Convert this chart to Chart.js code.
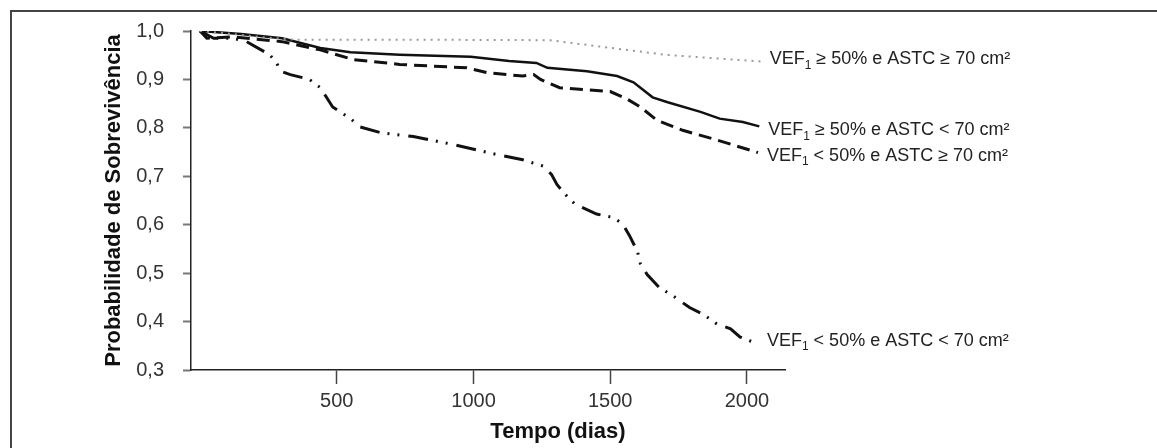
<!DOCTYPE html>
<html>
<head>
<meta charset="utf-8">
<script src="https://cdn.jsdelivr.net/npm/chart.js@4.4.1/dist/chart.umd.min.js"></script>
<style>
  body { margin: 0; background: #fff; }
  #wrap { position: relative; width: 1157px; height: 448px; overflow: hidden; }
  #frame { position: absolute; left: 10px; top: 10px; width: 1200px; height: 500px;
           border-top: 2px solid #444; border-left: 2px solid #444; }
  canvas { position: absolute; left: 0; top: 0; }
</style>
</head>
<body>
<div id="wrap">
  <div id="frame"></div>
  <canvas id="chart" width="1157" height="448"></canvas>
</div>
<script>
// tick labels
const xTicks = [500, 1000, 1500, 2000];
const yTicks = [0.3, 0.4, 0.5, 0.6, 0.7, 0.8, 0.9, 1.0];

// VEF1 >= 50% e ASTC >= 70 cm2 (dotted grey)
const tDot = [0, 100, 250, 350, 800, 1280, 1460, 1700, 1950, 2050];
const sDot = [1.0, 0.995, 0.986, 0.982, 0.982, 0.981, 0.968, 0.951, 0.941, 0.937];

// VEF1 >= 50% e ASTC < 70 cm2 (solid)
const tSolid = [0, 150, 300, 440, 550, 730, 990, 1130, 1230, 1270, 1415, 1525, 1585, 1655, 1710, 1830, 1900, 1985, 2045];
const sSolid = [1.0, 0.994, 0.985, 0.965, 0.956, 0.951, 0.947, 0.938, 0.934, 0.924, 0.917, 0.907, 0.894, 0.863, 0.853, 0.833, 0.819, 0.812, 0.803];

// VEF1 < 50% e ASTC >= 70 cm2 (dashed)
const tDash = [0, 25, 120, 300, 440, 560, 730, 975, 1050, 1180, 1220, 1245, 1315, 1500, 1560, 1610, 1670, 1765, 1890, 2040];
const sDash = [1.0, 0.985, 0.988, 0.978, 0.961, 0.941, 0.931, 0.924, 0.914, 0.907, 0.910, 0.900, 0.883, 0.875, 0.860, 0.843, 0.816, 0.795, 0.775, 0.749];

// VEF1 < 50% e ASTC < 70 cm2 (dash-dot-dot)
const tDD = [0, 50, 120, 170, 255, 280, 295, 330, 400, 440, 485, 550, 585, 660, 780, 905, 985, 1060, 1180, 1255, 1285, 1305, 1340, 1370, 1450, 1510, 1545, 1570, 1600, 1610, 1635, 1680, 1730, 1790, 1840, 1890, 1940, 1975, 2040];
const sDD = [1.0, 0.985, 0.985, 0.978, 0.951, 0.934, 0.917, 0.910, 0.900, 0.883, 0.843, 0.819, 0.802, 0.790, 0.782, 0.768, 0.758, 0.748, 0.734, 0.721, 0.704, 0.683, 0.660, 0.643, 0.622, 0.615, 0.602, 0.578, 0.544, 0.520, 0.497, 0.470, 0.453, 0.429, 0.415, 0.395, 0.385, 0.368, 0.354];

// curve labels: relation for VEF1 and for ASTC
const vefRel = ['≥', '≥', '<', '<'];
const astcRel = ['≥', '<', '≥', '<'];

const FONT = "'Liberation Sans', Arial, sans-serif";

function pts(t, s) {
    return t.map((v, i) => ({ x: v, y: s[i] }));
}

const curveLabels = {
    id: 'curveLabels',
    afterDraw(chart) {
        const ctx = chart.ctx;
        const dy = [-2, 4, 3, -3];
        ctx.save();
        ctx.fillStyle = '#222';
        ctx.textBaseline = 'middle';
        chart.data.datasets.forEach((ds, i) => {
            const last = ds.data[ds.data.length - 1];
            let x = chart.scales.x.getPixelForValue(last.x) + 9;
            const y = chart.scales.y.getPixelForValue(last.y) + dy[i];
            ctx.font = '18px ' + FONT;
            ctx.fillText('VEF', x, y);
            x += ctx.measureText('VEF').width;
            ctx.font = '12px ' + FONT;
            ctx.fillText('1', x, y + 6);
            x += ctx.measureText('1').width;
            ctx.font = '18px ' + FONT;
            ctx.fillText(' ' + vefRel[i] + ' 50% e ASTC ' + astcRel[i] + ' 70 cm²', x, y);
        });
        // x axis title
        ctx.font = 'bold 22px ' + FONT;
        ctx.fillStyle = '#111';
        ctx.textAlign = 'center';
        ctx.fillText('Tempo (dias)', 558, 432);
        ctx.restore();
    }
};

new Chart(document.getElementById('chart'), {
    type: 'line',
    data: {
        datasets: [
            { data: pts(tDot, sDot), borderColor: '#9a9a9a', borderWidth: 2, borderDash: [2, 5] },
            { data: pts(tSolid, sSolid), borderColor: '#111', borderWidth: 2.5 },
            { data: pts(tDash, sDash), borderColor: '#111', borderWidth: 3, borderDash: [13, 7] },
            { data: pts(tDD, sDD), borderColor: '#111', borderWidth: 3, borderDash: [20, 8, 2, 8, 2, 9] }
        ]
    },
    options: {
        responsive: false,
        animation: false,
        layout: { padding: { left: 0, top: 26, right: 372, bottom: 0 } },
        elements: { point: { radius: 0 }, line: { tension: 0, fill: false } },
        plugins: { legend: { display: false }, tooltip: { enabled: false } },
        scales: {
            x: {
                type: 'linear',
                min: -33,
                max: 2139,
                afterBuildTicks: (s) => { s.ticks = xTicks.map(v => ({ value: v })); },
                afterFit: (s) => { s.height = 78; },
                ticks: {
                    color: '#333', padding: 5, font: { family: FONT, size: 20 },
                    callback: (v) => String(v)
                },
                grid: { drawOnChartArea: false, tickLength: 14, color: '#444', tickWidth: 1.5 },
                border: { color: '#222', width: 1.5 }
            },
            y: {
                min: 0.3,
                max: 1.0,
                afterBuildTicks: (s) => { s.ticks = yTicks.map(v => ({ value: v })); },
                afterFit: (s) => { s.width = 191; },
                ticks: {
                    color: '#333', padding: 19, font: { family: FONT, size: 20 },
                    callback: (v) => v.toFixed(1).replace('.', ',')
                },
                grid: { drawOnChartArea: false, tickLength: 8, color: '#777', tickWidth: 2 },
                border: { color: '#222', width: 1.5 },
                title: {
                    display: true,
                    text: 'Probabilidade de Sobrevivência',
                    color: '#111',
                    padding: { top: 101, bottom: 0 },
                    font: { family: FONT, size: 22, weight: 'bold' }
                }
            }
        }
    },
    plugins: [curveLabels]
});
</script>
</body>
</html>
